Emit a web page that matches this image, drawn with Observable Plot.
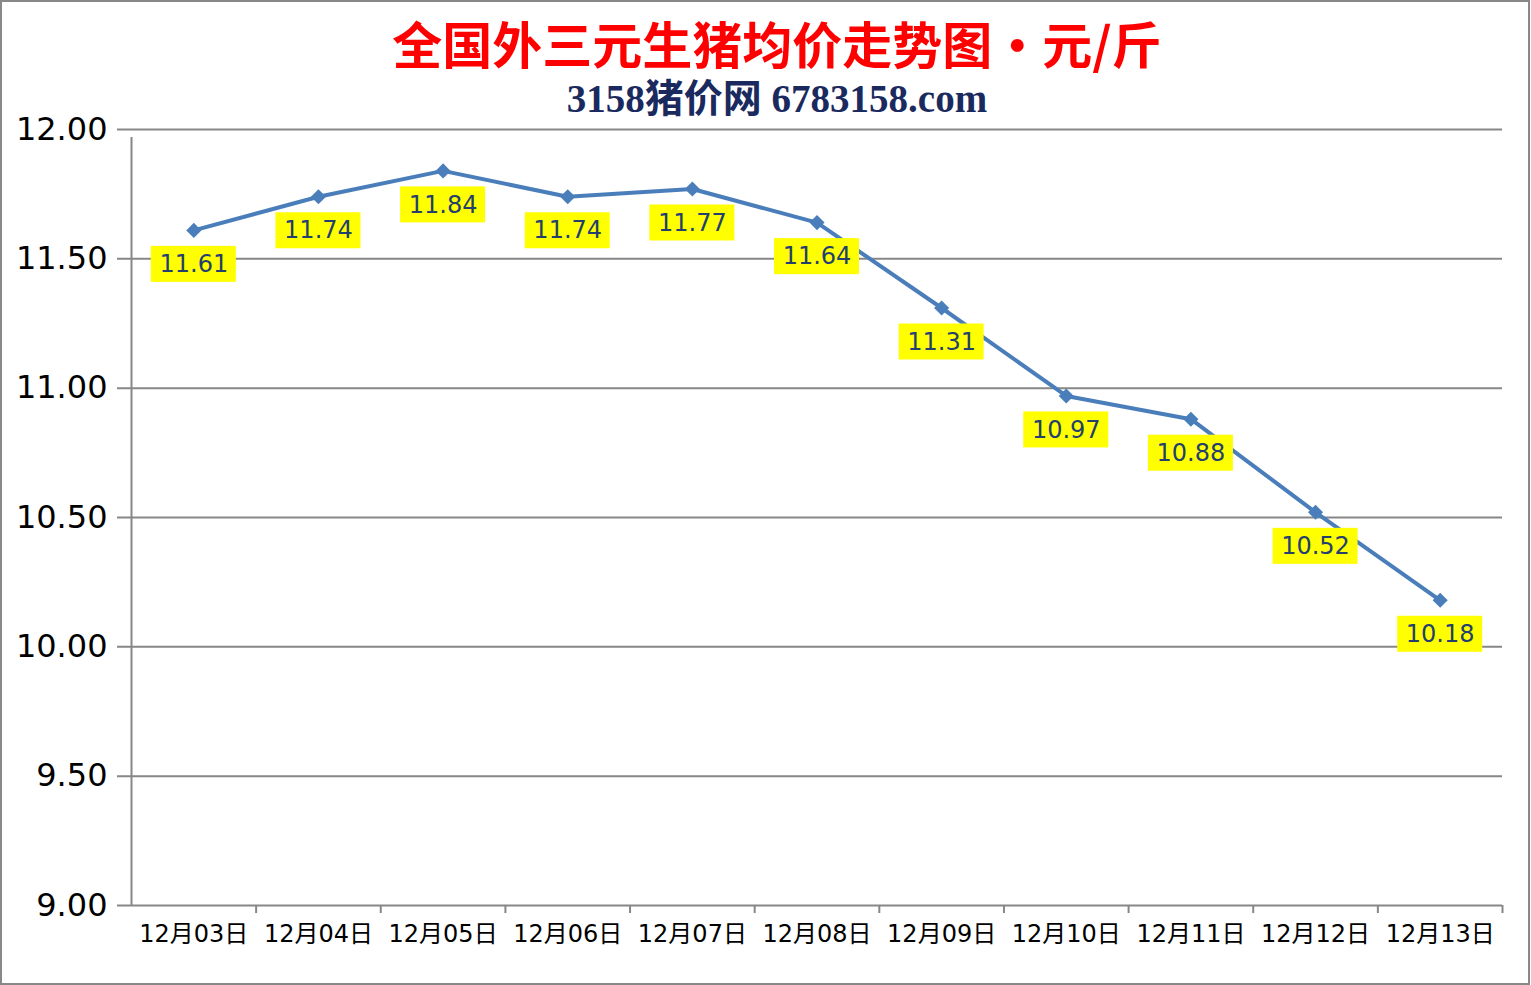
<!DOCTYPE html>
<html>
<head>
<meta charset="utf-8">
<script src="https://cdn.jsdelivr.net/npm/d3@7"></script>
<script src="https://cdn.jsdelivr.net/npm/@observablehq/plot@0.6"></script>
<style>
  html, body { margin: 0; padding: 0; background: #fff; }
  #frame { position: relative; width: 1530px; height: 985px; box-sizing: border-box; border: 2px solid #888; background: #fff; overflow: hidden; }
  #title { position: absolute; left: 0; width: 1550px; top: 14px; text-align: center; color: #ff0000; font-family: "Noto Sans CJK SC", sans-serif; font-weight: 700; font-size: 50px; line-height: 52px; z-index: 2; }
  #subtitle { position: absolute; left: 0; width: 1550px; top: 76px; text-align: center; color: #1b2a5e; font-family: "Liberation Serif", "Noto Sans CJK SC", serif; font-weight: bold; font-size: 39px; line-height: 42px; z-index: 2; }
  #chart { position: absolute; left: -2px; top: -2px; width: 1531px; height: 985px; }
  #chart svg { max-width: none !important; width: 1531px; height: 985px; }
</style>
</head>
<body>
<div id="frame">
  <div id="title">全国外三元生猪均价走势图・元/斤</div>
  <div id="subtitle">3158猪价网 6783158.com</div>
  <div id="chart"></div>
</div>
<script>
const dates = ["12月03日","12月04日","12月05日","12月06日","12月07日","12月08日","12月09日","12月10日","12月11日","12月12日","12月13日"];
const prices = [11.61, 11.74, 11.84, 11.74, 11.77, 11.64, 11.31, 10.97, 10.88, 10.52, 10.18];
const yTicks = [9.0, 9.5, 10.0, 10.5, 11.0, 11.5, 12.0];

const data = dates.map((d, i) => ({date: d, price: prices[i]}));

const W = 1531, H = 985, mL = 131, mR = 29, mT = 129, mB = 80;
const bw = (W - mL - mR) / dates.length;

const plot = Plot.plot({
  width: W,
  height: H,
  marginLeft: mL,
  marginRight: mR,
  marginTop: mT,
  marginBottom: mB,
  style: {background: "transparent", fontFamily: "DejaVu Sans, sans-serif", maxWidth: "none"},
  x: {type: "band", domain: dates, padding: 0, round: false, axis: null},
  y: {domain: [9, 12], axis: null},
  marks: [
    // horizontal gridlines with left tick extension
    Plot.ruleY(yTicks, {stroke: "#878787", strokeWidth: 2, insetLeft: -14}),
    // y-axis labels
    Plot.axisY(yTicks, {tickSize: 0, tickPadding: 24, tickFormat: d => d.toFixed(2), fontSize: 32, fill: "#000", label: null}),
    // vertical axis line + category boundary ticks
    Plot.ruleX([dates[0]], {dx: -bw / 2, y1: 9, y2: 12, insetBottom: -8, stroke: "#878787", strokeWidth: 2}),
    Plot.ruleX(dates.slice(1), {dx: -bw / 2, y1: 9, y2: 9, insetBottom: -8, stroke: "#878787", strokeWidth: 2}),
    Plot.ruleX([dates[dates.length - 1]], {dx: bw / 2, y1: 9, y2: 9, insetBottom: -8, stroke: "#878787", strokeWidth: 2}),
    // x-axis labels
    Plot.axisX(dates, {tickSize: 0, tickPadding: 19, fontSize: 24, fill: "#000", fontFamily: "DejaVu Sans, Noto Sans CJK SC, sans-serif", label: null}),
    // series line
    Plot.line(data, {x: "date", y: "price", stroke: "#4a7ebb", strokeWidth: 4}),
    Plot.dot(data, {x: "date", y: "price", symbol: "diamond2", r: 6.8, fill: "#4a7ebb", stroke: "none"}),
    // label backgrounds
    Plot.barY(data, {x: "date", y1: "price", y2: "price", fill: "#ffff00", insetLeft: (bw - 85) / 2, insetRight: (bw - 85) / 2, insetTop: 16, insetBottom: -52}),
    Plot.text(data, {x: "date", y: "price", text: d => d.price.toFixed(2), dy: 34, fill: "#233f6e", fontSize: 24, fontFamily: "DejaVu Sans, sans-serif"})
  ]
});
document.getElementById("chart").appendChild(plot);
</script>
</body>
</html>
